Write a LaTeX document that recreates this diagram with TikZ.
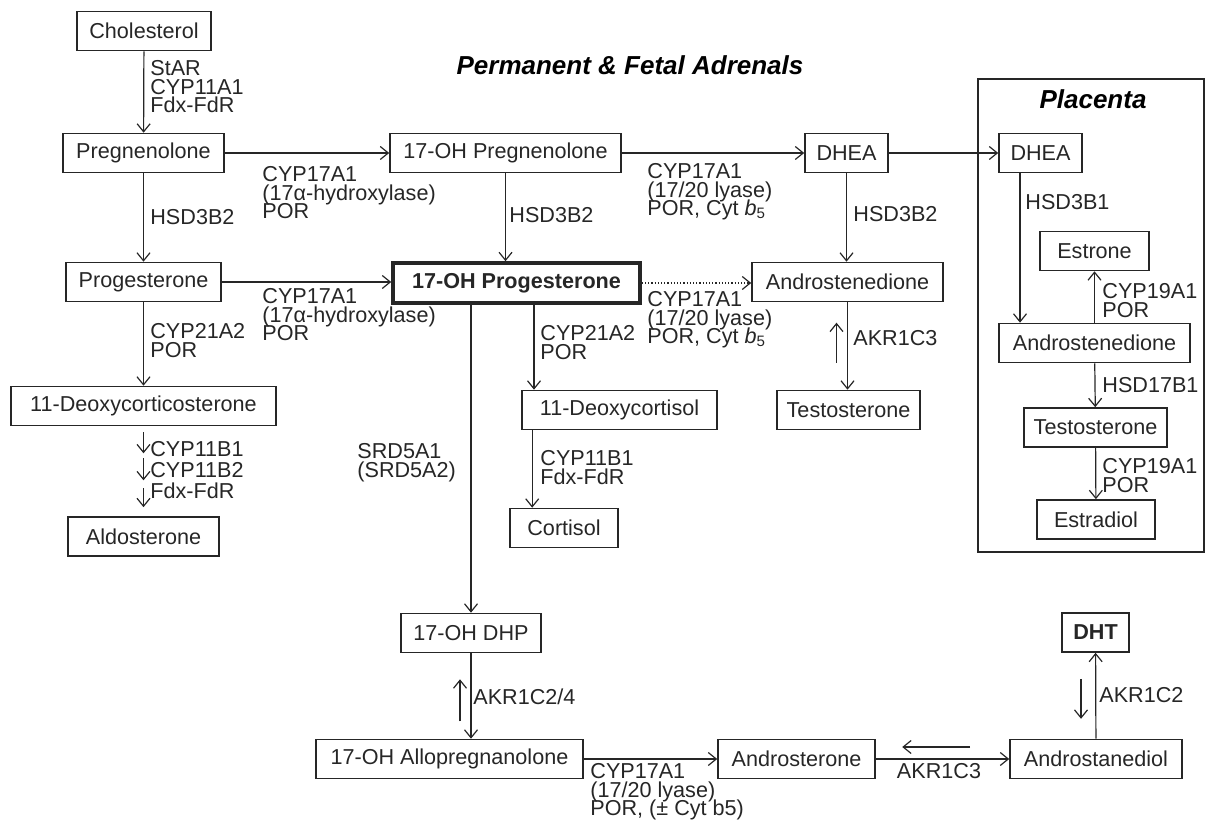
\documentclass[tikz,border=0pt]{standalone}
\usepackage{fontspec}
\setmainfont{Liberation Sans}
\usetikzlibrary{arrows.meta, positioning}
\usepackage{xcolor}
\definecolor{ink}{gray}{0.15}
\newcommand{\enzfont}{\fontsize{10.8}{9.3}\selectfont\lineskiplimit=-10pt\relax}
\newcommand{\enzfontwide}{\fontsize{10.8}{10.5}\selectfont\lineskiplimit=-10pt\relax}

\begin{document}
\begin{tikzpicture}[
    x=0.5pt, y=-0.5pt,
    box/.style={draw=ink, text=ink, rectangle, line width=0.8pt, minimum height=19.5pt, inner sep=0pt, align=center, font=\fontsize{10.8}{12}\selectfont},
    keybox/.style={box, line width=1.8pt, font=\fontsize{10.8}{12}\selectfont\bfseries},
    enz/.style={text=ink, inner sep=0pt, align=left, font=\enzfont},
    title/.style={text=black, inner sep=0pt, font=\fontsize{13}{15}\selectfont\bfseries\itshape},
    arrow/.style={-{Straight Barb[length=4pt,width=6.5pt]}, draw=ink, line width=0.6pt},
    weak/.style={arrow, densely dotted}
]
\useasboundingbox (0,0) rectangle (1208,822);

% Titulos e placenta
\node[title] (adrenal) at (630,65) {Permanent \& Fetal Adrenals};
\draw[ink, line width=0.8pt] (978,79) rectangle (1204,552);
\node[title] (placenta) at (1093,99) {Placenta};

% Linha 1
\node[box, minimum width=67pt] (chol) at (144,31) {Cholesterol};
\node[box, minimum width=80.5pt] (preg) at (143.5,153) {Pregnenolone};
\node[box, minimum width=115.5pt] (ohpreg) at (505.5,153) {17-OH Pregnenolone};
\node[box, minimum width=41.5pt] (dhea) at (846.5,153) {DHEA};
\node[box, minimum width=41.5pt] (pdhea) at (1040.5,153) {DHEA};

% Linha 2
\node[box, minimum width=77.5pt] (prog) at (143.5,282) {Progesterone};
\node[keybox, minimum width=123.5pt, minimum height=20pt] (ohprog) at (516.5,283) {17-OH Progesterone};
\node[box, minimum width=95.5pt] (andro) at (847.5,282) {Androstenedione};
\node[box, minimum width=54.5pt] (estr) at (1094.5,251) {Estrone};
\node[box, minimum width=95.5pt] (pandro) at (1094.5,343) {Androstenedione};

% Linha 3
\node[box, minimum width=132.5pt] (dcs) at (143.5,406) {11-Deoxycorticosterone};
\node[box, minimum width=97.5pt] (dcl) at (619.5,410) {11-Deoxycortisol};
\node[box, minimum width=71.5pt] (testo) at (848.5,410) {Testosterone};
\node[box, minimum width=71.5pt] (ptesto) at (1095.5,427.5) {Testosterone};
\node[box, minimum width=75.5pt] (aldo) at (143.5,536.5) {Aldosterone};
\node[box, minimum width=54pt] (cort) at (564,528) {Cortisol};
\node[box, minimum width=59pt] (edio) at (1096,519.5) {Estradiol};

% Via alternativa
\node[box, minimum width=70pt] (dhp) at (471,633) {17-OH DHP};
\node[box, minimum width=33.5pt, font=\fontsize{10.8}{12}\selectfont\bfseries] (dht) at (1095.5,632.5) {DHT};
\node[box, minimum width=133.5pt] (allo) at (449.5,759) {17-OH Allopregnanolone};
\node[box, minimum width=78.5pt] (ster) at (796.5,759) {Androsterone};
\node[box, minimum width=86pt] (diol) at (1096,759) {Androstanediol};

% Enzimas
\node[enz, anchor=north west] (e1) at (150,60) {StAR\\CYP11A1\\Fdx-FdR};
\node[enz, anchor=north west] (e2) at (262,166) {CYP17A1\\(17α-hydroxylase)\\POR};
\node[enz, anchor=north west] (e3) at (647,163) {CYP17A1\\(17/20 lyase)\\POR, Cyt \textit{b}\textsubscript{5}};
\node[enz, anchor=west] (e4) at (150,217) {HSD3B2};
\node[enz, anchor=west] (e5) at (509,215) {HSD3B2};
\node[enz, anchor=west] (e6) at (853,214) {HSD3B2};
\node[enz, anchor=west] (e7) at (1025,202) {HSD3B1};
\node[enz, anchor=north west] (e8) at (262,288) {CYP17A1\\(17α-hydroxylase)\\POR};
\node[enz, anchor=north west] (e9) at (647,291) {CYP17A1\\(17/20 lyase)\\POR, Cyt \textit{b}\textsubscript{5}};
\node[enz, anchor=north west] (e10) at (150,323) {CYP21A2\\POR};
\node[enz, anchor=north west] (e11) at (540,325) {CYP21A2\\POR};
\node[enz, anchor=west] (e12) at (853,338) {AKR1C3};
\node[enz, anchor=north west] (e13) at (1102,283) {CYP19A1\\POR};
\node[enz, anchor=west] (e14) at (1102,385) {HSD17B1};
\node[enz, anchor=north west] (e15) at (1102,458) {CYP19A1\\POR};
\node[enz, anchor=north west, font=\enzfontwide] (e16) at (150,441) {CYP11B1\\CYP11B2\\Fdx-FdR};
\node[enz, anchor=north west] (e17) at (540,450) {CYP11B1\\Fdx-FdR};
\node[enz, anchor=north west] (e18) at (357,443) {SRD5A1\\(SRD5A2)};
\node[enz, anchor=west] (e19) at (473,697) {AKR1C2/4};
\node[enz, anchor=north west] (e20) at (590,763) {CYP17A1\\(17/20 lyase)\\POR, (± Cyt b5)};
\node[enz] (e21) at (939,771) {AKR1C3};
\node[enz, anchor=west] (e22) at (1099,695) {AKR1C2};

% Setas
\draw[arrow] (chol) -- (preg);
\draw[arrow] (preg) -- (ohpreg);
\draw[arrow] (ohpreg) -- (dhea);
\draw[arrow] (dhea) -- (pdhea);
\draw[arrow] (preg) -- (prog);
\draw[arrow] (ohpreg.south) -- (ohpreg.south |- ohprog.north);
\draw[arrow] (prog.east) -- (prog.east -| ohprog.west);
\draw[weak] (ohprog.east) -- (ohprog.east -| andro.west);
\draw[arrow] (dhea.south) -- (dhea.south |- andro.north);
\draw[arrow] (andro.south) -- (andro.south |- testo.north);
\draw[arrow] ([xshift=-6pt,yshift=13.5pt]testo.north) -- ++(0,-40);
\draw[arrow] (prog) -- (dcs);
\draw[arrow] ([yshift=-3pt]dcs.south) -- ++(0,21);
\draw[arrow] ([yshift=-16pt]dcs.south) -- ++(0,22);
\draw[arrow] ([yshift=-31pt]dcs.south) -- ([yshift=4.5pt]aldo.north);
\draw[arrow] ([xshift=8.75pt]ohprog.south) -- ([xshift=8.75pt]ohprog.south |- dcl.north);
\draw[arrow] ([xshift=5.5pt]dcl.south west) -- ([xshift=5.5pt]dcl.south west |- cort.north);
\draw[arrow] (dhp.north |- ohprog.south) -- (dhp.north);
\draw[arrow] (dhp.south) -- (dhp.south |- allo.north);
\draw[arrow] ([xshift=-5.5pt,yshift=-34pt]dhp.south) -- ++(0,-42);
\draw[arrow] (allo) -- (ster);
\draw[arrow] (ster) -- (diol);
\draw[arrow] ([xshift=-19.5pt,yshift=6pt]diol.west) -- ++(-68,0);
\draw[arrow] (diol) -- (dht);
\draw[arrow] ([xshift=-7.25pt,yshift=-13pt]dht.south) -- ++(0,40);

% Placenta
\draw[arrow] ([xshift=-10.25pt]pdhea.south) -- ([xshift=-10.25pt]pdhea.south |- pandro.north);
\draw[arrow] (pandro) -- (estr);
\draw[arrow] (pandro) -- (ptesto);
\draw[arrow] (ptesto) -- (edio);

\end{tikzpicture}
\end{document}
